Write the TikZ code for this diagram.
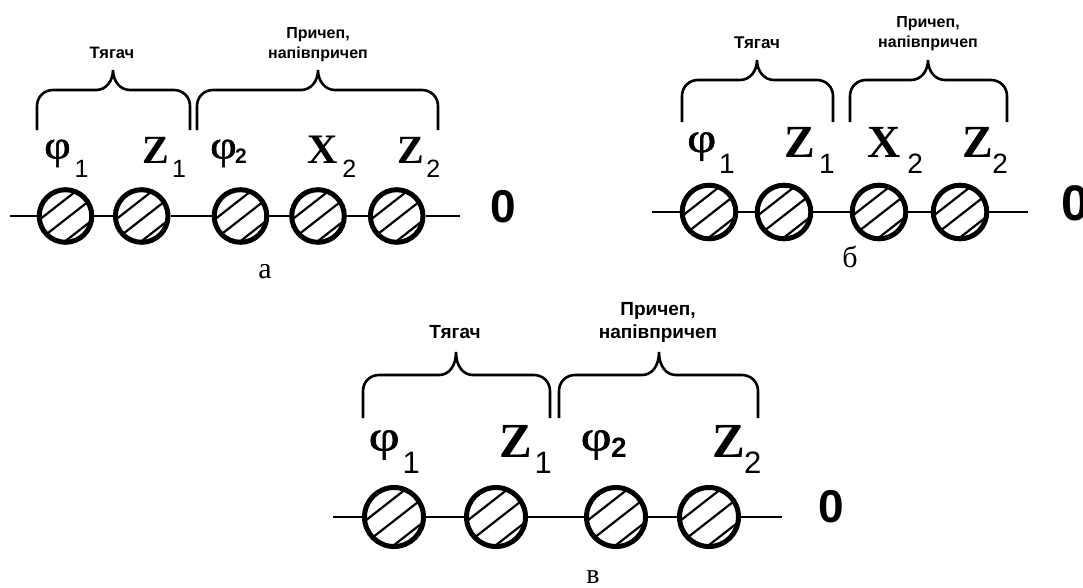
\documentclass[tikz,border=0pt]{standalone}
\usepackage{fontspec}
\setmainfont{Liberation Serif}
\setsansfont{Liberation Sans}
\newfontfamily\phifont[FakeBold=1.2]{Liberation Serif}
\usetikzlibrary{calc}

% three parallel hatch strokes inside a wheel of radius #1
\newcommand\hatch[1]{%
  \foreach \hk in {-0.5,0.1,0.75}{%
    \draw[hatchline]
      ($(path picture bounding box.center)+({(0.616*\hk-0.946)*#1},{(0.788*\hk+0.739)*#1})$) --
      ($(path picture bounding box.center)+({(0.616*\hk+0.946)*#1},{(0.788*\hk-0.739)*#1})$);
  }}

% curly bracket over a group: x-left, x-right, x-tip, y-ends, y-bar, y-tip
\newcommand\grpbrace[6]{%
  \draw[bracket] (#1,#4) -- (#1,{#5+16})
    .. controls (#1,{#5+7}) and ({#1+7},#5) .. ({#1+16},#5)
    -- ({#3-17},#5)
    .. controls ({#3-7},#5) and (#3,{#5-9}) .. (#3,#6)
    .. controls (#3,{#5-9}) and ({#3+7},#5) .. ({#3+17},#5)
    -- ({#2-16},#5)
    .. controls ({#2-7},#5) and (#2,{#5+7}) .. (#2,{#5+16})
    -- (#2,#4);}

\newcommand\fs[1]{\fontsize{#1}{#1}\selectfont}
% widened phi: size, horizontal stretch, lift above the label baseline
\newcommand\wphi[3]{\raisebox{#3pt}{\scalebox{#2}[1]{\phifont\fs{#1}φ}}}

\tikzset{
  shaft/.style={line width=2.4pt},
  bracket/.style={line width=2.6pt},
  hatchline/.style={line width=2.2pt},
  hub/.style={circle, draw, line width=5pt, fill=white, inner sep=0pt,
    minimum size={2*#1}, path picture={\hatch{#1}}},
  lbl/.style={anchor=base west, inner sep=0pt},
  grp/.style={anchor=base, inner sep=0pt, align=center},
  zero/.style={inner sep=0pt, font=\sffamily\bfseries},
  caption/.style={anchor=base, inner sep=0pt},
}

\begin{document}
\begin{tikzpicture}[x=1pt, y=-1pt]
\useasboundingbox (0,0) rectangle (1083,587);

% ---------- scheme a ----------
\node[hub=26.3] (a1) at (65.5,216) {};
\node[hub=26.3] (a2) at (141.7,216) {};
\node[hub=26.3] (a3) at (240.5,216) {};
\node[hub=26.3] (a4) at (318,216) {};
\node[hub=26.3] (a5) at (396.7,216) {};
\coordinate (aL) at (10,216);
\coordinate (aR) at (460,216);
\draw[shaft] (aL) -- (a1) -- (a2) -- (a3) -- (a4) -- (a5) -- (aR);

\node[lbl] (pa1) at (44,163) {\rlap{\wphi{40}{1.15}{4.5}}\kern30.3pt\raisebox{-14pt}{\sffamily\fs{25}1}};
\node[lbl] (za1) at (142.5,163) {\rlap{\fs{40}\textbf{Z}}\kern29.3pt\raisebox{-14pt}{\sffamily\fs{25}1}};
\node[lbl] (pa2) at (210,163) {\rlap{\wphi{40}{1.15}{4.5}}\kern25pt{\sffamily\bfseries\fs{21}2}};
\node[lbl] (xa2) at (307,163) {\rlap{\fs{42}\textbf{X}}\kern35.2pt\raisebox{-14pt}{\sffamily\fs{25}2}};
\node[lbl] (za2) at (397.5,163) {\rlap{\fs{40}\textbf{Z}}\kern28.7pt\raisebox{-14pt}{\sffamily\fs{25}2}};

\grpbrace{37}{190}{113}{130}{90}{70}
\grpbrace{197}{438}{318}{130}{90}{70}
\node[grp, font=\sffamily\bfseries\fs{16.5}] (ta) at (112,58) {Тягач};
\node[grp, font=\sffamily\bfseries\fontsize{16}{20}\selectfont] (ra) at (318,58) {Причеп,\\напівпричеп};
\node[zero, font=\sffamily\bfseries\fs{46}] (oa) at (503,207) {0};
\node[caption, font=\fs{30}] (ca) at (265,278) {а};

% ---------- scheme b ----------
\node[hub=26.8] (b1) at (709,212) {};
\node[hub=26.8] (b2) at (784,212) {};
\node[hub=26.8] (b3) at (879,212) {};
\node[hub=26.8] (b4) at (960,212) {};
\coordinate (bL) at (652,212);
\coordinate (bR) at (1028,212);
\draw[shaft] (bL) -- (b1) -- (b2) -- (b3) -- (b4) -- (bR);

\node[lbl] (pb1) at (687,157) {\rlap{\wphi{42}{1.2}{5}}\kern32pt\raisebox{-16pt}{\sffamily\fs{28}1}};
\node[lbl] (zb1) at (784.5,157) {\rlap{\fs{46}\textbf{Z}}\kern34.5pt\raisebox{-16pt}{\sffamily\fs{28}1}};
\node[lbl] (xb2) at (867.5,157) {\rlap{\fs{46}\textbf{X}}\kern39.7pt\raisebox{-16pt}{\sffamily\fs{28}2}};
\node[lbl] (zb2) at (962.5,157) {\rlap{\fs{46}\textbf{Z}}\kern29.7pt\raisebox{-16pt}{\sffamily\fs{28}2}};

\grpbrace{682}{833}{757}{122}{80}{60}
\grpbrace{850}{1007}{928}{122}{80}{60}
\node[grp, font=\sffamily\bfseries\fs{17}] (tb) at (757,48) {Тягач};
\node[grp, font=\sffamily\bfseries\fontsize{16}{20}\selectfont] (rb) at (928,47) {Причеп,\\напівпричеп};
\node[zero, font=\sffamily\bfseries\fs{50}] (ob) at (1075,203.5) {0};
\node[caption, font=\fs{30}] (cb) at (850,267) {б};

% ---------- scheme c ----------
\node[hub=29.5] (c1) at (394,517) {};
\node[hub=29.5] (c2) at (496,517) {};
\node[hub=29.5] (c3) at (616,517) {};
\node[hub=29.5] (c4) at (709,517) {};
\coordinate (cL) at (333,517);
\coordinate (cR) at (782,517);
\draw[shaft] (cL) -- (c1) -- (c2) -- (c3) -- (c4) -- (cR);

\node[lbl] (pc1) at (368.5,457) {\rlap{\wphi{43}{1.25}{6.5}}\kern34pt\raisebox{-16pt}{\sffamily\fs{31}1}};
\node[lbl] (zc1) at (499.5,457) {\rlap{\fs{49}\textbf{Z}}\kern35pt\raisebox{-16pt}{\sffamily\fs{31}1}};
\node[lbl] (pc2) at (580.5,457) {\rlap{\wphi{43}{1.25}{6.5}}\kern30.5pt{\sffamily\bfseries\fs{28}2}};
\node[lbl] (zc2) at (712.5,457) {\rlap{\fs{49}\textbf{Z}}\kern31.5pt\raisebox{-16pt}{\sffamily\fs{31}2}};

\grpbrace{363}{550}{456}{418}{375}{352}
\grpbrace{559}{758}{659}{418}{375}{352}
\node[grp, font=\sffamily\bfseries\fs{19}] (tc) at (455,338) {Тягач};
\node[grp, font=\sffamily\bfseries\fontsize{19}{23}\selectfont] (rc) at (658,338) {Причеп,\\напівпричеп};
\node[zero, font=\sffamily\bfseries\fs{46}] (oc) at (831,507) {0};
\node[caption, font=\fs{28}] (cc) at (593,583) {в};
\end{tikzpicture}
\end{document}
